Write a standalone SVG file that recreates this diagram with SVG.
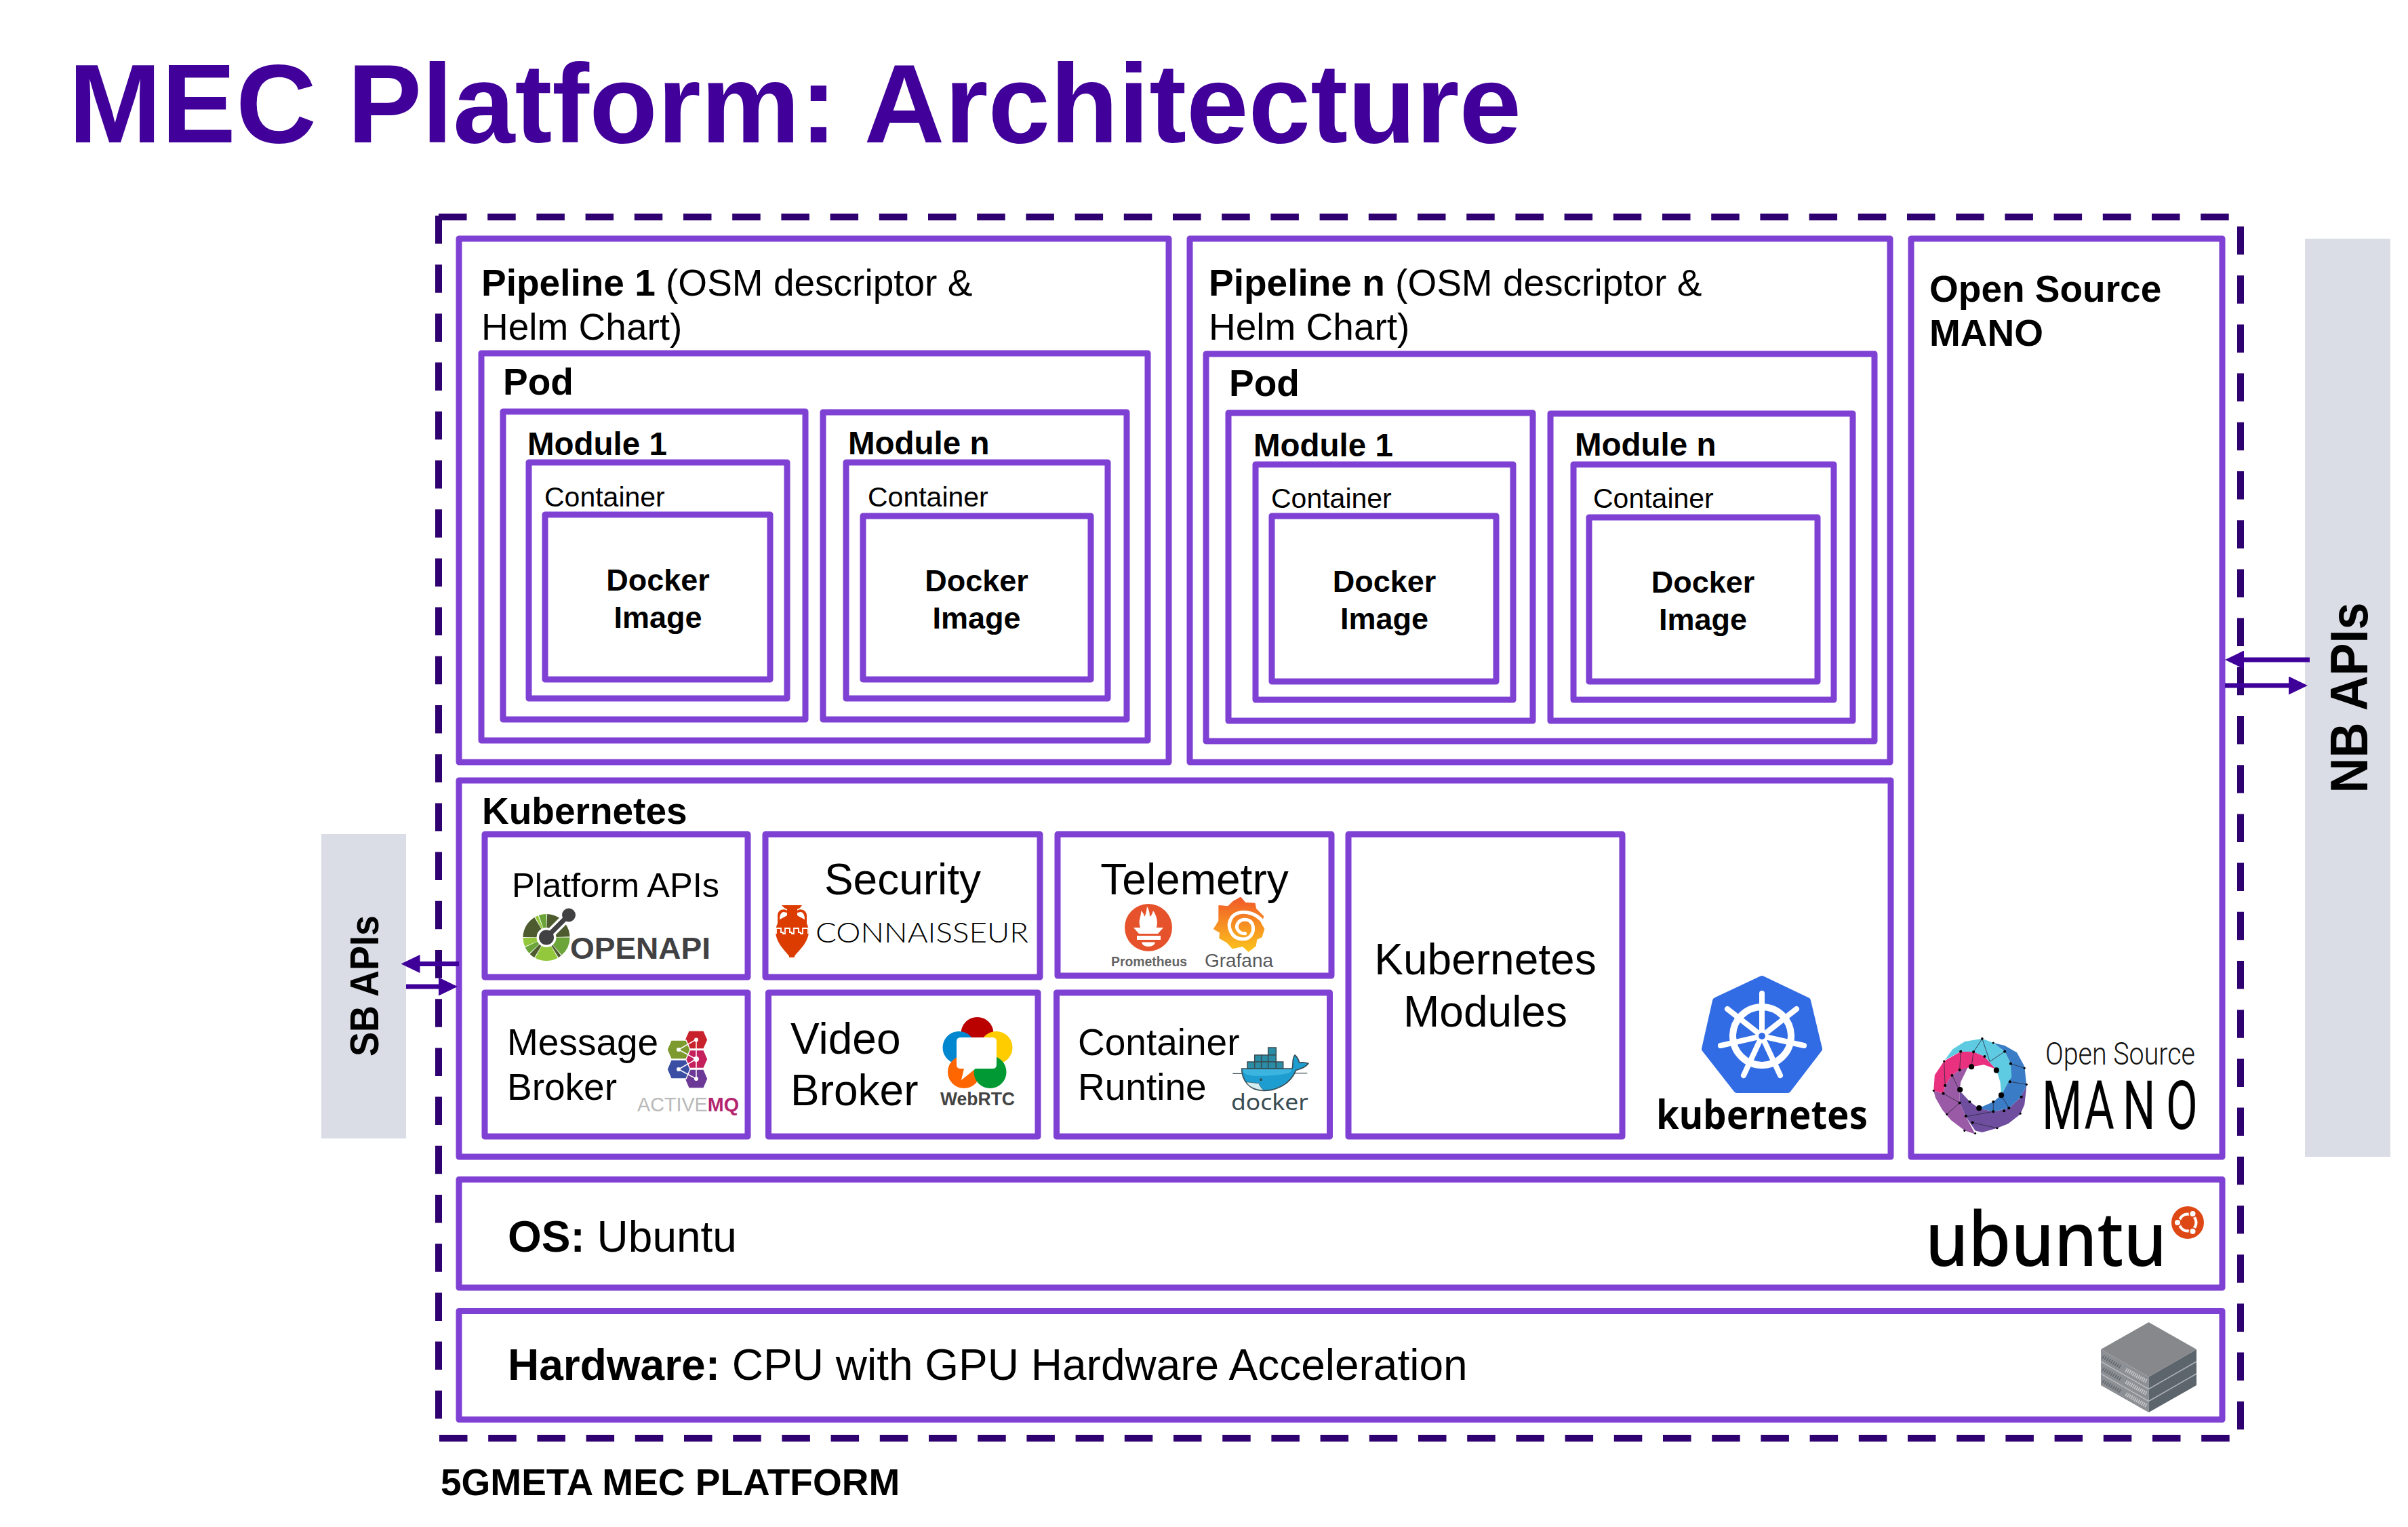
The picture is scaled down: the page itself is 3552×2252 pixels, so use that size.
<svg xmlns="http://www.w3.org/2000/svg" width="3552" height="2252" viewBox="0 0 3552 2252">
<style>
text{font-family:"Liberation Sans",Arial,sans-serif;fill:#000}
.b{font-weight:700}
.box{fill:none;stroke:#7F41D3;stroke-width:9;stroke-linejoin:round}
.dash{stroke:#2E0070;stroke-width:10;stroke-dasharray:41.5 30.7;fill:none}
.arrow{stroke:#3F0099;stroke-width:7;fill:none}
.grey{fill:#DADDE6}
.p{font-size:55px}.pod{font-size:55px;font-weight:700}.m{font-size:47.5px;font-weight:700}.c{font-size:41px}.d{font-size:45px;font-weight:700;text-anchor:middle}
.k{font-size:64px}.mid{text-anchor:middle}
.osm line{stroke:#2a2a40;stroke-width:1.6}
.seg{fill:none;stroke-width:20}
</style>
<defs>
<marker id="head" markerUnits="userSpaceOnUse" markerWidth="28" markerHeight="27" refX="8" refY="13.5" orient="auto"><path d="M0,0L28,13.5L0,27Z" fill="#3F0099"/></marker>
<linearGradient id="gf" x1="0" y1="1" x2="0" y2="0"><stop offset="0" stop-color="#FBC31C"/><stop offset="1" stop-color="#F15A29"/></linearGradient>
</defs>
<rect width="3552" height="2252" fill="#fff"/>
<text id="title" class="b" x="101" y="210" font-size="164.600" style="fill:#400099">MEC Platform: Architecture</text>

<g id="platform-boundary">
<line class="dash" x1="647" y1="318" x2="647" y2="2095"/>
<line class="dash" x1="647" y1="320" x2="3292" y2="320"/>
<line class="dash" x1="3305" y1="334" x2="3305" y2="2110"/>
<line class="dash" x1="648" y1="2121" x2="3292" y2="2121"/>
<text class="b" x="650" y="2205" font-size="55">5GMETA MEC PLATFORM</text>
</g>

<g id="sb-apis"><rect class="grey" x="474" y="1230" width="125" height="449"/>
<text class="b mid" transform="translate(558,1454) rotate(-90)" font-size="59" textLength="208" lengthAdjust="spacingAndGlyphs">SB APIs</text></g>
<g id="nb-apis"><rect class="grey" x="3400" y="352" width="126" height="1354"/>
<text class="b mid" transform="translate(3492,1029) rotate(-90)" font-size="78" textLength="281" lengthAdjust="spacingAndGlyphs">NB APIs</text></g>

<g id="pipeline-1"><rect class="box" x="677" y="352" width="1047" height="772"/>
<text class="p" x="710" y="436"><tspan class="b">Pipeline 1 </tspan>(OSM descriptor &amp;</text><text class="p" x="710" y="501">Helm Chart)</text></g>
<g id="pod-1"><rect class="box" x="710" y="521" width="983" height="571"/><text class="pod" x="742" y="582">Pod</text></g>
<g id="p1-module-1"><rect class="box" x="742" y="607" width="446" height="454"/><text class="m" x="778" y="671">Module 1</text></g>
<g id="p1-container-1"><rect class="box" x="780" y="682" width="381" height="348"/><text class="c" x="803" y="747">Container</text></g>
<g id="p1-docker-1"><rect class="box" x="804" y="759" width="332" height="243"/><text class="d" x="970.5" y="871">Docker</text><text class="d" x="970.5" y="926">Image</text></g>
<g id="p1-module-n"><rect class="box" x="1214" y="608" width="448" height="453"/><text class="m" x="1251" y="670">Module n</text></g>
<g id="p1-container-n"><rect class="box" x="1248" y="682" width="386" height="348"/><text class="c" x="1280" y="747">Container</text></g>
<g id="p1-docker-n"><rect class="box" x="1273" y="761" width="336" height="241"/><text class="d" x="1440.5" y="872">Docker</text><text class="d" x="1440.5" y="927">Image</text></g>

<g id="pipeline-n"><rect class="box" x="1755" y="352" width="1033" height="772"/>
<text class="p" x="1783" y="436"><tspan class="b">Pipeline n </tspan>(OSM descriptor &amp;</text><text class="p" x="1783" y="501">Helm Chart)</text></g>
<g id="pod-n"><rect class="box" x="1779" y="522" width="986" height="571"/><text class="pod" x="1813" y="584">Pod</text></g>
<g id="pn-module-1"><rect class="box" x="1812" y="609" width="449" height="454"/><text class="m" x="1849" y="673">Module 1</text></g>
<g id="pn-container-1"><rect class="box" x="1852" y="685" width="380" height="347"/><text class="c" x="1875" y="749">Container</text></g>
<g id="pn-docker-1"><rect class="box" x="1876" y="761" width="331" height="244"/><text class="d" x="2042" y="873">Docker</text><text class="d" x="2042" y="928">Image</text></g>
<g id="pn-module-n"><rect class="box" x="2287" y="610" width="446" height="453"/><text class="m" x="2323" y="672">Module n</text></g>
<g id="pn-container-n"><rect class="box" x="2321" y="685" width="384" height="347"/><text class="c" x="2350" y="749">Container</text></g>
<g id="pn-docker-n"><rect class="box" x="2344" y="763" width="337" height="242"/><text class="d" x="2512" y="874">Docker</text><text class="d" x="2512" y="929">Image</text></g>

<g id="mano"><rect class="box" x="2819" y="352" width="459" height="1354"/>
<text class="b" x="2846" y="445" font-size="55">Open Source</text><text class="b" x="2846" y="510" font-size="55">MANO</text>
<g class="osm" transform="translate(2750,1450) scale(.5115)">
<path fill="#6F4E9F" d="M468,295L462,350 450,378 415,405 383,418 340,430 320,425 293,385 275,345 275,310 305,342 330,360 372,370 417,360 450,330Z"/>
<path fill="#9B5AA6" d="M200,310L228,318 233,295 253,265 275,250 300,240 278,285 275,310 275,345 293,385 320,435 290,425 250,395 225,365 205,330Z"/>
<path fill="#EA3180" d="M230,225L278,197 315,198 345,210 380,248 345,235 309,241 275,250 253,265 233,295 228,318 200,310 203,265Z"/>
<path fill="#3A7DC6" d="M372,172L405,180 440,200 462,240 468,295 450,330 417,360 372,370 330,360 372,342 395,322 415,285 422,232 405,197Z"/>
<path fill="#5FCBE2" d="M232,222L255,190 290,168 340,160 372,172 405,197 422,232 425,270 415,285 395,322 392,285 380,248 345,210 315,198 278,197Z"/>
<line x1="340" y1="160" x2="315" y2="198"/><line x1="340" y1="160" x2="362" y2="226"/><line x1="405" y1="197" x2="362" y2="226"/><line x1="422" y1="232" x2="462" y2="245"/><line x1="420" y1="284" x2="468" y2="292"/><line x1="372" y1="342" x2="372" y2="370"/><line x1="417" y1="360" x2="395" y2="323"/><line x1="293" y1="385" x2="372" y2="370"/><line x1="312" y1="402" x2="383" y2="418"/><line x1="275" y1="345" x2="238" y2="378"/><line x1="228" y1="318" x2="275" y2="345"/><line x1="253" y1="265" x2="275" y2="310"/><line x1="230" y1="225" x2="233" y2="295"/><line x1="278" y1="197" x2="275" y2="250"/><line x1="315" y1="198" x2="309" y2="241"/>
<g fill="#000"><circle cx="309" cy="241" r="8"/><circle cx="381" cy="251" r="8"/><circle cx="395" cy="323" r="8"/><circle cx="331" cy="360" r="8"/><circle cx="276" cy="307" r="8"/><circle cx="340" cy="160" r="3.5"/><circle cx="405" cy="197" r="4"/><circle cx="278" cy="197" r="4"/><circle cx="315" cy="198" r="4"/><circle cx="347" cy="211" r="4"/><circle cx="422" cy="232" r="4"/><circle cx="420" cy="284" r="4"/><circle cx="372" cy="342" r="4"/><circle cx="372" cy="370" r="4"/><circle cx="417" cy="360" r="4"/><circle cx="450" cy="376" r="3"/><circle cx="403" cy="368" r="4"/><circle cx="293" cy="383" r="4"/><circle cx="312" cy="402" r="4"/><circle cx="275" cy="345" r="4"/><circle cx="238" cy="378" r="3"/><circle cx="228" cy="318" r="4"/><circle cx="233" cy="295" r="4"/><circle cx="253" cy="266" r="4"/><circle cx="275" cy="250" r="4"/><circle cx="230" cy="225" r="3"/><circle cx="200" cy="310" r="3"/><circle cx="289" cy="425" r="3"/><circle cx="320" cy="433" r="3"/><circle cx="383" cy="418" r="3"/><circle cx="468" cy="292" r="3"/><circle cx="462" cy="245" r="3"/><circle cx="453" cy="328" r="4"/><circle cx="304" cy="342" r="4"/><circle cx="372" cy="172" r="3"/></g>
</g>
<text x="3017" y="1570" font-size="47" textLength="221" lengthAdjust="spacingAndGlyphs" style="font-family:Roboto,'Liberation Sans',sans-serif;font-weight:300;fill:#111">Open Source</text>
<text transform="translate(3012,1665) scale(.68,1)" x="0 92 175 269" y="0" font-size="100" style="font-family:Roboto,'Liberation Sans',sans-serif;font-weight:400;fill:#000">MANO</text>
</g>

<g id="kubernetes"><rect class="box" x="677" y="1151" width="2112" height="555"/>
<text class="b" x="711" y="1215" font-size="55">Kubernetes</text>
<path fill="#326CE5" stroke="#326CE5" stroke-width="10" stroke-linejoin="round" d="M2599,1444L2666,1476 2683,1547 2637,1607 2562,1607 2515,1547 2531,1476Z"/>
<g stroke="#fff" fill="none" stroke-linecap="round">
<circle cx="2599" cy="1528" r="43" stroke-width="10"/>
<path stroke-width="8" d="M2599,1465V1528M2650,1488L2599,1528M2661,1542L2599,1528M2626,1586L2599,1528M2572,1586L2599,1528M2538,1542L2599,1528M2548,1488L2599,1528"/>
<circle cx="2599" cy="1528" r="9" fill="#fff" stroke="none"/>
<circle cx="2599" cy="1528" r="5" fill="#326CE5" stroke="none"/>
</g>
<text x="2443" y="1665" font-size="60" textLength="312" lengthAdjust="spacingAndGlyphs" style="font-family:'Noto Sans','Liberation Sans',sans-serif;font-weight:700">kubernetes</text>
</g>

<g id="platform-apis"><rect class="box" x="715" y="1230.500" width="388" height="210.500"/>
<text class="mid" x="908" y="1323" font-size="50.500">Platform APIs</text>
<g transform="rotate(-90 806 1382.500)">
<circle class="seg" cx="806" cy="1382.500" r="24.500" pathLength="360" stroke="#4E5B2E" stroke-dasharray="38 322" stroke-dashoffset="-2"/>
<circle class="seg" cx="806" cy="1382.500" r="24.500" pathLength="360" stroke="#4E5B2E" stroke-dasharray="33 327" stroke-dashoffset="-55"/>
<circle class="seg" cx="806" cy="1382.500" r="24.500" pathLength="360" stroke="#6BA539" stroke-dasharray="49 311" stroke-dashoffset="-90"/>
<circle class="seg" cx="806" cy="1382.500" r="24.500" pathLength="360" stroke="#4E5B2E" stroke-dasharray="8 352" stroke-dashoffset="-141"/>
<circle class="seg" cx="806" cy="1382.500" r="24.500" pathLength="360" stroke="#93C83D" stroke-dasharray="58 302" stroke-dashoffset="-151"/>
<circle class="seg" cx="806" cy="1382.500" r="24.500" pathLength="360" stroke="#4E5B2E" stroke-dasharray="14 346" stroke-dashoffset="-211"/>
<circle class="seg" cx="806" cy="1382.500" r="24.500" pathLength="360" stroke="#6BA539" stroke-dasharray="18 342" stroke-dashoffset="-227"/>
<circle class="seg" cx="806" cy="1382.500" r="24.500" pathLength="360" stroke="#93C83D" stroke-dasharray="22 338" stroke-dashoffset="-247"/>
<circle class="seg" cx="806" cy="1382.500" r="24.500" pathLength="360" stroke="#4E5B2E" stroke-dasharray="58 302" stroke-dashoffset="-271"/>
<circle class="seg" cx="806" cy="1382.500" r="24.500" pathLength="360" stroke="#93C83D" stroke-dasharray="8 352" stroke-dashoffset="-331"/>
<circle class="seg" cx="806" cy="1382.500" r="24.500" pathLength="360" stroke="#6BA539" stroke-dasharray="19 341" stroke-dashoffset="-341"/>
</g>
<line x1="806" y1="1382.500" x2="839" y2="1349.500" stroke="#fff" stroke-width="14"/>
<circle cx="806" cy="1382.500" r="14" fill="#fff"/>
<line x1="806" y1="1382.500" x2="839" y2="1349.500" stroke="#414042" stroke-width="7"/>
<circle cx="806" cy="1382.500" r="11" fill="#414042"/><circle cx="839" cy="1349.500" r="10" fill="#414042"/>
<text class="b" x="841" y="1414" font-size="45" textLength="207" lengthAdjust="spacingAndGlyphs" style="fill:#414042">OPENAPI</text>
</g>

<g id="security"><rect class="box" x="1129" y="1230.500" width="405" height="210.500"/>
<text class="mid" x="1331.500" y="1318.500" font-size="64">Security</text>
<path fill="#DC3C00" d="M1153,1335H1183L1180,1339 1176,1341V1343C1180,1339 1190,1342 1190,1350L1190,1362C1192,1366 1193,1370 1193,1373 1193,1390 1178,1402 1172,1410V1412H1164V1410C1158,1402 1144,1390 1144,1373 1144,1370 1145,1366 1147,1362L1147,1350C1147,1342 1156,1339 1161,1343V1341L1157,1339Z"/>
<path fill="#fff" d="M1150,1356C1150,1350 1152,1345 1156,1345L1161,1346V1350C1158,1352 1154,1354 1150,1356ZM1187,1356C1187,1350 1185,1345 1181,1345L1176,1346V1350C1179,1352 1183,1354 1187,1356Z"/>
<path fill="none" stroke="#fff" stroke-width="1.800" d="M1145,1377V1369H1152V1375H1155V1377H1158V1369H1165V1375H1168V1377H1171V1369H1178V1375H1181V1377H1184V1369H1192V1377"/>
<text x="1203" y="1390" font-size="42" textLength="314" lengthAdjust="spacingAndGlyphs" style="font-family:Lato,'Liberation Sans',sans-serif;font-weight:300">CONNAISSEUR</text>
</g>

<g id="telemetry"><rect class="box" x="1560" y="1230.500" width="404" height="208.500"/>
<text class="mid" x="1762" y="1318.500" font-size="64">Telemetry</text>
<circle cx="1694" cy="1368" r="35" fill="#E6522C"/>
<path fill="#fff" d="M1682,1368C1678,1356 1684,1352 1683,1343 1687,1347 1688,1350 1688,1352 1691,1348 1691,1342 1692,1337 1696,1343 1696,1350 1696,1352 1699,1350 1700,1346 1701,1343 1707,1352 1708,1360 1706,1368ZM1672,1368H1716L1708,1377H1680ZM1677,1380H1712V1386H1677ZM1684,1389.500H1704Q1703,1396 1694,1396 1685,1396 1684,1389.500Z"/>
<g transform="translate(1620,1320) scale(.3333)">
<path fill="url(#gf)" stroke="url(#gf)" stroke-width="6" stroke-linejoin="round" d="M630,12L650,35 692,38 697,62 730,95 718,125 733,150 722,185 700,195 695,225 665,248 640,225 595,235 570,208 538,190 540,165 513,150 535,115 535,48 575,52 600,28Z"/>
<path fill="none" stroke="#fff" stroke-width="15" stroke-linecap="round" d="M735,128C700,70 620,60 590,100 565,140 590,195 640,195 680,195 695,155 680,125 665,100 625,105 615,130 608,150 625,172 650,170"/>
</g>
<text x="1639" y="1425" font-size="21" textLength="112" lengthAdjust="spacingAndGlyphs" style="font-weight:700;fill:#666">Prometheus</text>
<text x="1777" y="1426" font-size="27" textLength="101" lengthAdjust="spacingAndGlyphs" style="fill:#58595B">Grafana</text>
</g>

<g id="kubernetes-modules"><rect class="box" x="1989" y="1230.500" width="404" height="445.500"/>
<text class="k mid" x="2191" y="1437">Kubernetes</text><text class="k mid" x="2191" y="1514">Modules</text></g>

<g id="message-broker"><rect class="box" x="715" y="1464" width="388" height="212"/>
<text x="748" y="1555.500" font-size="55">Message</text><text x="748" y="1621.500" font-size="55">Broker</text>
<g stroke="#fff" stroke-width="1.500">
<path fill="#C8232C" d="M1016,1520H1038L1044,1533.500 1038,1547H1016L1010,1533.500Z"/>
<path fill="#C4205C" d="M1016,1548.500H1038L1044,1562 1038,1575.500H1016L1010,1562Z"/>
<path fill="#6C3A96" d="M1016,1577H1038L1044,1591 1038,1605H1016L1010,1591Z"/>
<path fill="#7C9A2E" d="M990,1534H1012L1018,1548 1012,1562H990L984,1548Z"/>
<path fill="#3A4EA3" d="M990,1563H1012L1018,1577 1012,1591H990L984,1577Z"/>
</g>
<path fill="none" stroke="#fff" stroke-width="1.500" d="M1027,1533V1591M1001,1548L1027,1562 1001,1577M1001,1548L1027,1533M1001,1577L1027,1591"/>
<g fill="#fff"><circle cx="1027" cy="1533.500" r="3"/><circle cx="1027" cy="1562" r="4"/><circle cx="1027" cy="1591" r="3"/><circle cx="1001" cy="1548" r="3"/><circle cx="1001" cy="1577" r="3"/></g>
<text x="940" y="1639" font-size="29" textLength="150" lengthAdjust="spacingAndGlyphs" style="fill:#B9B9B9">ACTIVE<tspan class="b" style="fill:#B5246E">MQ</tspan></text>
</g>

<g id="video-broker"><rect class="box" x="1133.500" y="1464" width="397.500" height="212"/>
<text x="1166" y="1554" font-size="64">Video</text><text x="1166" y="1630" font-size="64">Broker</text>
<circle cx="1441.500" cy="1524" r="24" fill="#BB0000"/>
<circle cx="1414.500" cy="1545" r="24" fill="#0087CF"/>
<circle cx="1469.500" cy="1545" r="24" fill="#FFCC00"/>
<circle cx="1422" cy="1581" r="24" fill="#FF6600"/>
<circle cx="1460.500" cy="1581" r="24" fill="#009933"/>
<path fill="#fff" d="M1417,1530H1464Q1470,1530 1470,1536V1570Q1470,1576 1464,1576H1439L1418,1593 1422,1576H1417Q1411,1576 1411,1570V1536Q1411,1530 1417,1530Z"/>
<text x="1387" y="1630" font-size="27" textLength="110" lengthAdjust="spacingAndGlyphs" style="font-weight:700;fill:#444">WebRTC</text>
</g>

<g id="container-runtime"><rect class="box" x="1558.500" y="1464" width="403" height="212"/>
<text x="1590" y="1556" font-size="55">Container</text><text x="1590" y="1621.500" font-size="55">Runtine</text>
<g fill="#2A8DA5" stroke="#394D54" stroke-width="1.500"><rect x="1870.700" y="1545" width="11.600" height="11"/><rect x="1850.700" y="1556" width="10" height="10"/><rect x="1860.700" y="1556" width="10" height="10"/><rect x="1870.700" y="1556" width="11.600" height="10"/><rect x="1840" y="1566" width="10.700" height="10"/><rect x="1850.700" y="1566" width="10" height="10"/><rect x="1860.700" y="1566" width="10" height="10"/><rect x="1870.700" y="1566" width="11.600" height="10"/><rect x="1882.300" y="1566" width="10.400" height="10"/></g>
<g transform="translate(1800,1530) scale(.3333)">
<path fill="#1E9DD0" stroke="#394D54" stroke-width="5" stroke-linejoin="round" d="M95,138H318C325,120 315,100 330,78 345,90 348,105 350,112 365,108 380,112 390,115 380,130 355,140 335,145 310,210 240,238 190,235 130,235 95,190 95,138Z"/>
<path fill="#3BB4E0" d="M98,141H316C320,160 280,165 200,170 140,172 100,170 98,141Z"/>
<path fill="#D4EDF1" stroke="#394D54" stroke-width="2" d="M115,198C140,198 165,205 170,202 175,215 185,230 195,235 160,232 130,222 115,198Z"/>
<circle cx="180" cy="187" r="6" fill="#394D54"/>
<path fill="none" stroke="#394D54" stroke-width="4" d="M55,160H95M330,158H385"/>
</g>
<text x="1816" y="1637" font-size="33" textLength="114" lengthAdjust="spacingAndGlyphs" style="font-family:'Noto Sans','Liberation Sans',sans-serif;fill:#394D54">docker</text>
</g>

<g id="os"><rect class="box" x="677" y="1739.500" width="2601" height="159.500"/>
<text x="749" y="1846" font-size="64"><tspan class="b">OS: </tspan>Ubuntu</text>
<text x="2840" y="1867" font-size="110" textLength="356" lengthAdjust="spacingAndGlyphs" style="font-family:'Noto Sans','Liberation Sans',sans-serif;font-weight:500">ubuntu</text>
<circle cx="3227" cy="1803" r="24" fill="#DD4814"/>
<circle cx="3227" cy="1803" r="12.500" fill="none" stroke="#fff" stroke-width="4"/>
<g fill="#fff" stroke="#DD4814" stroke-width="2"><circle cx="3212" cy="1803" r="5"/><circle cx="3234.500" cy="1790" r="5"/><circle cx="3234.500" cy="1816" r="5"/></g>
</g>

<g id="hardware"><rect class="box" x="677" y="1933.500" width="2601" height="160"/>
<text x="749" y="2034.500" font-size="64"><tspan class="b">Hardware: </tspan>CPU with GPU Hardware Acceleration</text>
<path fill="#8C8F93" d="M3099,1990L3169.500,2030.500V2083L3099,2043Z"/>
<path fill="#5D656C" d="M3240,1990L3169.500,2030.500V2083L3240,2043Z"/>
<path fill="#86888C" d="M3169.500,1950L3240,1990 3169.500,2030.500 3099,1990Z"/>
<path fill="none" stroke="#B8BABD" stroke-width="1.500" d="M3099,2008L3169.500,2048.500M3099,2026L3169.500,2066.500"/>
<path fill="none" stroke="#AEB2B6" stroke-width="1.500" d="M3169.500,2048.500L3240,2008M3169.500,2066.500L3240,2026"/>
<path fill="none" stroke="#C9CBCE" stroke-width="6" stroke-dasharray="1.500 1.500" d="M3136,2020L3166,2037M3136,2038L3166,2055M3136,2056L3166,2073"/>
<path fill="none" stroke="#5D656C" stroke-width="6" stroke-dasharray="1.500 2" d="M3102,2001L3128,2016M3102,2019L3128,2034M3102,2037L3128,2052"/>
</g>

<g id="connectors">
<line class="arrow" x1="677" y1="1421.500" x2="611.500" y2="1421.500" marker-end="url(#head)"/>
<line class="arrow" x1="599" y1="1455" x2="655" y2="1455" marker-end="url(#head)"/>
<line class="arrow" x1="3407" y1="973" x2="3302" y2="973" marker-end="url(#head)"/>
<line class="arrow" x1="3282" y1="1011" x2="3384" y2="1011" marker-end="url(#head)"/>
</g>
</svg>
